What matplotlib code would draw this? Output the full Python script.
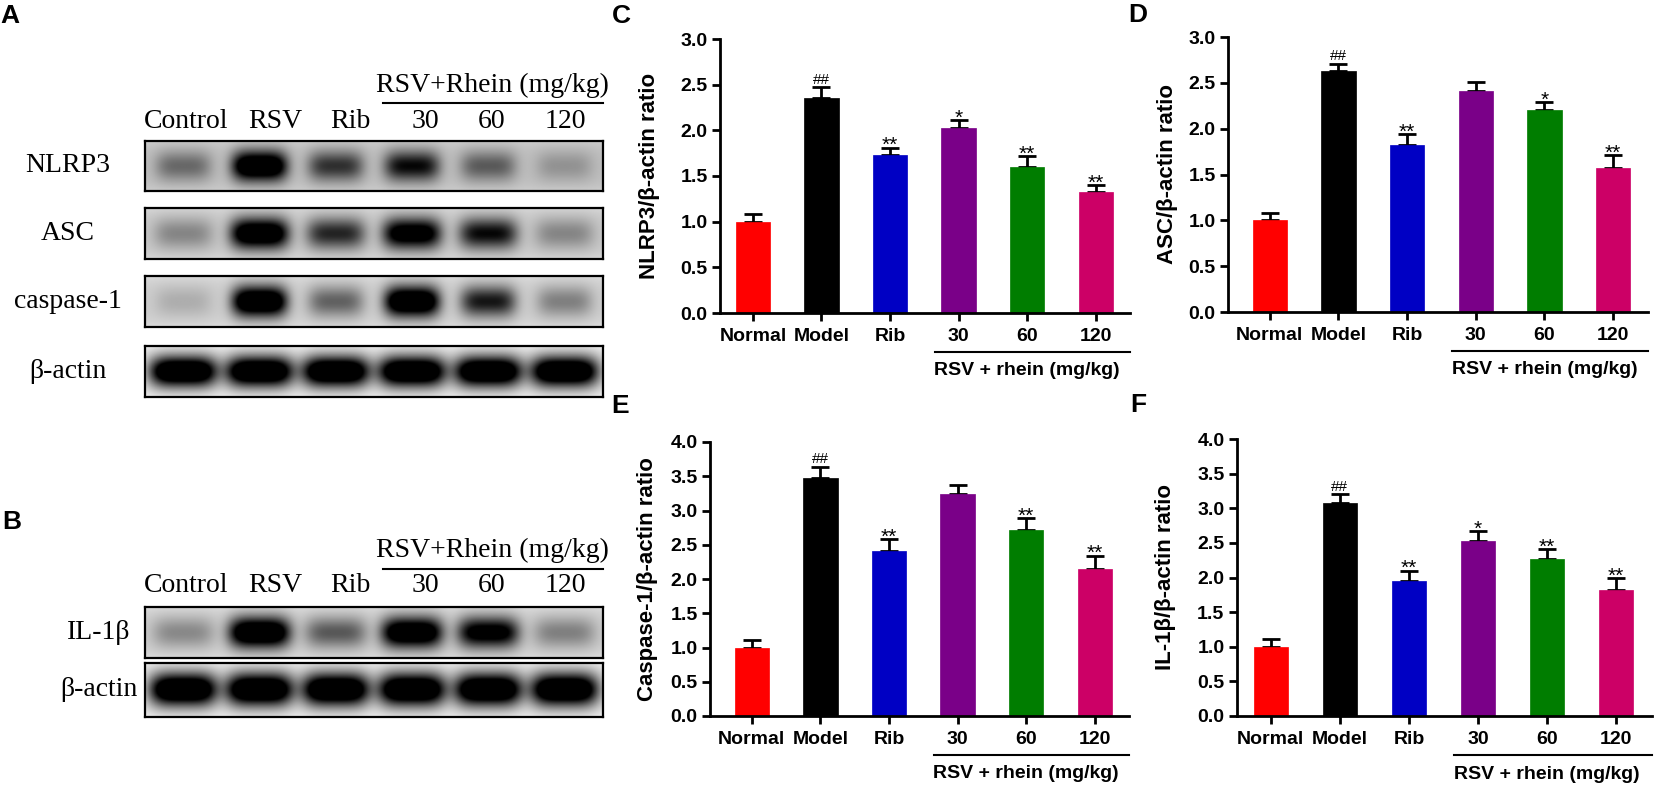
import numpy as np
import matplotlib
matplotlib.use("Agg")
import matplotlib.pyplot as plt
import matplotlib.transforms as mtransforms

# ---- data ----
groups = ['Normal', 'Model', 'Rib', '30', '60', '120']
colors = ['#ff0000', '#000000', '#0000c4', '#7a0088', '#007d00', '#cc0066']

nlrp3_mean = [1.00, 2.35, 1.73, 2.03, 1.60, 1.33]
nlrp3_err = [0.08, 0.12, 0.08, 0.08, 0.12, 0.07]
nlrp3_sig = ['', '##', '**', '*', '**', '**']

asc_mean = [1.00, 2.63, 1.82, 2.41, 2.20, 1.57]
asc_err = [0.08, 0.08, 0.12, 0.10, 0.09, 0.14]
asc_sig = ['', '##', '**', '', '*', '**']

casp_mean = [1.00, 3.48, 2.41, 3.24, 2.72, 2.15]
casp_err = [0.11, 0.16, 0.17, 0.13, 0.17, 0.19]
casp_sig = ['', '##', '**', '', '**', '**']

il1b_mean = [0.99, 3.07, 1.95, 2.53, 2.27, 1.82]
il1b_err = [0.12, 0.13, 0.15, 0.14, 0.14, 0.17]
il1b_sig = ['', '##', '**', '*', '**', '**']

# western blot lanes and band darkness (0 = none, 1 = saturated)
lanes = ['Control', 'RSV', 'Rib', '30', '60', '120']
band_nlrp3 = [0.30, 1.00, 0.50, 0.65, 0.35, 0.15]
band_asc = [0.22, 0.95, 0.55, 0.85, 0.65, 0.22]
band_casp = [0.10, 1.00, 0.35, 1.00, 0.60, 0.25]
band_actin_a = [1.00, 1.00, 1.00, 1.00, 1.00, 1.00]
band_il1b = [0.22, 1.00, 0.38, 0.95, 0.80, 0.25]
band_actin_b = [1.00, 1.00, 1.00, 1.00, 1.00, 1.00]

W, H = 1654, 787
fig = plt.figure(figsize=(W / 100, H / 100), dpi=100)

SANS = 'Liberation Sans'
SERIF = 'Liberation Serif'


def px_axes(l, t, r, b):
    return fig.add_axes([l / W, 1 - b / H, (r - l) / W, (b - t) / H])


def fx(x):
    return x / W


def fy(y):
    return 1 - y / H


def blot(box, bands, bg, wx=0.36, wy=0.30):
    ax = px_axes(*box)
    nx, ny = 600, 80
    xs = np.linspace(0, 6, nx)
    ys = np.linspace(0, 1, ny)
    X, Y = np.meshgrid(xs, ys)
    dark = np.zeros_like(X)
    for i, d in enumerate(bands):
        prof = np.exp(-((X - (i + 0.5)) / wx) ** 4 - ((Y - 0.5) / wy) ** 2)
        dark = dark + d * prof
    img = bg * (1 - np.clip(1.5 * dark, 0, 1))
    # lighter top/bottom edge like membrane scan
    img = img + 0.06 * (np.abs(Y - 0.5) * 2) ** 3
    ax.imshow(img, cmap='gray', vmin=0, vmax=1, extent=(0, 6, 0, 1),
              aspect='auto', interpolation='bilinear')
    ax.set_xticks([])
    ax.set_yticks([])
    for s in ax.spines.values():
        s.set_linewidth(1.6)
    return ax


def blot_header(y_group, y_line, y_lanes):
    fig.text(fx(492), fy(y_group), 'RSV+Rhein (mg/kg)', family=SERIF,
             fontsize=20, ha='center', va='center')
    fig.add_artist(plt.Line2D([fx(383), fx(603)], [fy(y_line), fy(y_line)],
                              color='black', lw=1.5))
    lane_x = [186, 275, 350, 425, 492, 565]
    for x, lab in zip(lane_x, lanes):
        fig.text(fx(x), fy(y_lanes), lab, family=SERIF, fontsize=20,
                 ha='center', va='center')


# ---- panel A ----
fig.text(fx(0), fy(16), 'A', family=SANS, fontsize=19, weight='bold', va='center')
blot_header(85, 103, 122)
rows_a = [('NLRP3', band_nlrp3, 0.74, 141, 191, 0.36),
          ('ASC', band_asc, 0.78, 208, 259, 0.38),
          ('caspase-1', band_casp, 0.80, 276, 327, 0.36),
          ('\u03b2-actin', band_actin_a, 0.88, 346, 397, 0.44)]
for lab, bands, bg, t, b, wx in rows_a:
    blot((145, t, 603, b), bands, bg, wx=wx)
    fig.text(fx(68), fy((t + b) / 2), lab, family=SERIF, fontsize=20,
             ha='center', va='center')

# ---- panel B ----
fig.text(fx(2), fy(522), 'B', family=SANS, fontsize=19, weight='bold', va='center')
blot_header(550, 569, 585)
rows_b = [('IL-1\u03b2', band_il1b, 0.80, 607, 658, 0.40),
          ('\u03b2-actin', band_actin_b, 0.88, 663, 717, 0.44)]
for lab, bands, bg, t, b, wx in rows_b:
    blot((145, t, 603, b), bands, bg, wx=wx)
    fig.text(fx(99), fy((t + b) / 2), lab, family=SERIF, fontsize=20,
             ha='center', va='center')


# ---- bar panels ----
def bar_panel(box, xlim, ymax, mean, err, sig, ylabel, ylab_x, letter, letter_xy):
    ax = px_axes(*box)
    x = np.arange(len(groups))
    ax.bar(x, mean, width=0.5, color=colors, edgecolor=colors, lw=0.5, zorder=2)
    ax.errorbar(x, mean, yerr=[np.zeros(len(err)), err], fmt='none',
                ecolor='black', elinewidth=2, capsize=6.5, capthick=2, zorder=1)
    for xi, m, e, s in zip(x, mean, err, sig):
        if s == '##':
            ax.annotate(s, (xi, m + e), xytext=(0, 2.5), textcoords='offset points',
                        ha='center', va='baseline', fontsize=11, family=SANS)
        elif s:
            ax.annotate(s, (xi, m + e), xytext=(0, -2.5), textcoords='offset points',
                        ha='center', va='baseline', fontsize=15, family=SANS)
    ax.set_xlim(*xlim)
    ax.set_ylim(0, ymax)
    ax.set_yticks(np.arange(0, ymax + 0.01, 0.5))
    ax.set_yticklabels([f'{v:.1f}' for v in np.arange(0, ymax + 0.01, 0.5)])
    ax.set_xticks(x)
    ax.set_xticklabels(groups)
    for s in ['top', 'right']:
        ax.spines[s].set_visible(False)
    for s in ['left', 'bottom']:
        ax.spines[s].set_linewidth(2)
    ax.tick_params(axis='both', direction='out', length=6, width=2,
                   labelsize=14)
    ax.tick_params(axis='y', pad=3)
    ax.tick_params(axis='x', pad=5)
    for t in ax.get_xticklabels() + ax.get_yticklabels():
        t.set_family(SANS)
        t.set_weight('bold')
    bl = mtransforms.blended_transform_factory(ax.transData, ax.transAxes)
    ax.plot([2.65, xlim[1]], [-0.142, -0.142], color='black', lw=1.5,
            transform=bl, clip_on=False)
    ax.text(4.0, -0.21, 'RSV + rhein (mg/kg)', transform=bl, ha='center',
            va='center', fontsize=14, weight='bold', family=SANS)
    l, t, r, b = box
    fig.text(fx(ylab_x), fy((t + b) / 2), ylabel, rotation=90, ha='center',
             va='center', fontsize=16, weight='bold', family=SANS)
    fig.text(fx(letter_xy[0]), fy(letter_xy[1]), letter, fontsize=19,
             weight='bold', family=SANS, va='center')
    return ax


bar_panel((720, 39, 1130, 313), (-0.48, 5.5), 3.0, nlrp3_mean, nlrp3_err, nlrp3_sig,
          'NLRP3/\u03b2-actin ratio', 650, 'C', (612, 16))
bar_panel((1228, 37, 1648, 312), (-0.61, 5.51), 3.0, asc_mean, asc_err, asc_sig,
          'ASC/\u03b2-actin ratio', 1168, 'D', (1128, 15))
bar_panel((710, 442, 1129, 716), (-0.61, 5.5), 4.0, casp_mean, casp_err, casp_sig,
          'Caspase-1/\u03b2-actin ratio', 648, 'E', (611, 406))
bar_panel((1237, 439, 1652, 716), (-0.49, 5.52), 4.0, il1b_mean, il1b_err, il1b_sig,
          'IL-1\u03b2/\u03b2-actin ratio', 1165, 'F', (1130, 405))

fig.savefig('out.png', dpi=100, facecolor='white')
